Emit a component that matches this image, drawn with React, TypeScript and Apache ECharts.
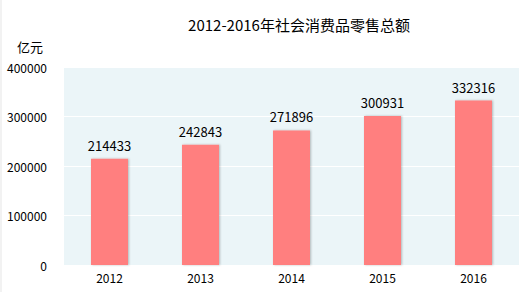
import React, { useEffect, useRef } from "react";
import * as echarts from "echarts";

const categories = ["2012", "2013", "2014", "2015", "2016"];
const values = [214433, 242843, 271896, 300931, 332316];
const yTicks = [0, 100000, 200000, 300000, 400000];
const titleText = "2012-2016年社会消费品零售总额";
const unitText = "亿元";

export default function App() {
  const ref = useRef<HTMLDivElement>(null);
  useEffect(() => {
    if (!ref.current) return;
    const chart = echarts.init(ref.current, null, { renderer: "svg" });
    const font = "'Noto Sans CJK SC', 'Noto Sans', sans-serif";
    chart.setOption({
      animation: false,
      backgroundColor: "#ffffff",
      textStyle: { fontFamily: font },
      title: {
        text: titleText,
        left: 294,
        top: 12,
        textAlign: "center",
        textStyle: { fontSize: 15, fontWeight: "normal", color: "#000", fontFamily: font },
      },
      graphic: [
        {
          type: "text",
          left: 17,
          top: 40,
          style: { text: unitText, fontSize: 13, fill: "#000", fontFamily: font },
        },
        {
          type: "rect",
          shape: { x: 0.5, y: 0, width: 1, height: 292 },
          style: { fill: "#e6e6e6" },
        },
      ],
      grid: {
        left: 64,
        right: 10,
        top: 67,
        bottom: 27,
        show: true,
        backgroundColor: "#EBF5F8",
        borderWidth: 0,
      },
      xAxis: {
        type: "category",
        data: categories,
        axisLine: { show: false },
        axisTick: { show: false },
        axisLabel: { color: "#000", fontSize: 12, margin: 6, fontFamily: font },
      },
      yAxis: {
        type: "value",
        min: yTicks[0],
        max: yTicks[yTicks.length - 1],
        interval: yTicks[1] - yTicks[0],
        axisLine: { show: false },
        axisTick: { show: false },
        splitLine: { show: true, lineStyle: { color: "#ffffff", width: 1 } },
        axisLabel: {
          color: "#000",
          fontSize: 12,
          margin: 17,
          fontFamily: font,
          formatter: (v: number) => String(v),
        },
      },
      series: [
        {
          type: "bar",
          data: values,
          barWidth: 37,
          itemStyle: {
            color: "#FF7F7F",
            shadowColor: "rgba(0,0,0,0.25)",
            shadowBlur: 2,
            shadowOffsetX: 1,
            shadowOffsetY: 0,
          },
          label: {
            show: true,
            position: "top",
            distance: 7,
            color: "#000",
            fontSize: 13,
            fontFamily: font,
          },
        },
      ],
    });
    return () => chart.dispose();
  }, []);
  return (
    <div
      ref={ref}
      style={{ position: "absolute", left: 0, top: 0, width: 529, height: 292 }}
    />
  );
}
